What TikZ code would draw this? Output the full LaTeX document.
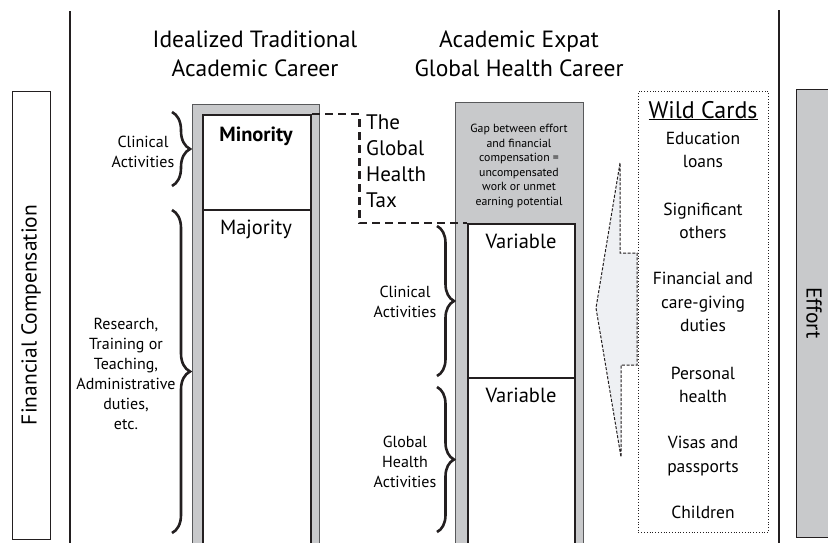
\documentclass[tikz,border=0pt]{standalone}
\usepackage{fontspec}
\setmainfont{PT Sans}
\usetikzlibrary{positioning, decorations.pathreplacing}
\tikzstyle{title} = [align=center, inner sep=0pt, font=\fontsize{23.5}{29}\selectfont]
\tikzstyle{sidebar} = [
    rectangle,
    draw=linedark,
    line width=0.8pt,
    fill=white,
    inner sep=0pt,
    font=\fontsize{21.5}{24}\selectfont,
]
\tikzstyle{column} = [rectangle, draw=edgegray, line width=0.8pt, fill=colgray, inner sep=0pt]
\tikzstyle{cell} = [rectangle, draw=linedark, line width=2.2pt, fill=white, inner sep=0pt]
\tikzstyle{celltext} = [inner sep=0pt, font=\fontsize{20.5}{24}\selectfont]
\tikzstyle{small} = [align=center, inner sep=0pt, font=\fontsize{16}{20}\selectfont]
\tikzstyle{wild} = [align=center, inner sep=0pt, font=\fontsize{17.5}{23.5}\selectfont]
\tikzstyle{curly} = [decorate, decoration={brace, amplitude=18pt}, line width=2.6pt, draw=linedark]
\tikzstyle{sepline} = [line width=1.6pt, draw=linedark]
\tikzstyle{taxline} = [line width=2.6pt, draw=linedark, dash pattern=on 8pt off 5pt]
\definecolor{linedark}{HTML}{231F20}
\definecolor{edgegray}{HTML}{58595B}
\definecolor{colgray}{HTML}{C8C9CB}
\definecolor{arrowfill}{HTML}{EEF0F3}
\begin{document}
\begin{tikzpicture}[x=1pt, y=-1pt]
    \useasboundingbox (0,0) rectangle (828,542);

    % outer bars and separators
    \node (fc) [sidebar, rotate=90, minimum width=448pt, minimum height=38pt] at (31,315) {Financial Compensation};
    \node (ef) [sidebar, fill=colgray, rotate=-90, minimum width=448pt, minimum height=36pt] at (814,313) {Effort};
    \draw [sepline] (70,11) -- (70,546);
    \draw [sepline] (779,10) -- (779,546);

    \node (t1) [title] at (255,54) {Idealized Traditional\\ Academic Career};
    \node (t2) [title] at (519,54) {Academic Expat\\ Global Health Career};

    % traditional career column
    \node (lcol) [column, anchor=north west, minimum width=127pt, minimum height=450pt] at (192,104) {};
    \node (mino) [cell, anchor=north west, minimum width=108pt, minimum height=95pt] at (202,114) {};
    \node (majo) [cell, anchor=north west, minimum width=108pt, minimum height=345pt] at (202,209) {};
    \node (minotx) [celltext, anchor=base, font=\fontsize{20.5}{24}\selectfont\bfseries] at (256,141) {Minority};
    \node (majotx) [celltext, anchor=base] at (256,234) {Majority};

    \draw [curly] (172,112) -- (172,186);
    \draw [curly] (172,210) -- (172,533);
    \node (clin1) [small] at (143,152) {Clinical\\ Activities};
    \node (rese) [small] at (126,374) {Research,\\ Training or\\ Teaching,\\ Administrative\\ duties,\\ etc.};

    % global health career column
    \node (rcol) [column, anchor=north west, minimum width=128pt, minimum height=450pt] at (455,102) {};
    \node (var1) [cell, anchor=north west, minimum width=107pt, minimum height=154pt] at (467,223) {};
    \node (var2) [cell, anchor=north west, minimum width=107pt, minimum height=175pt] at (467,377) {};
    \node (var1tx) [celltext, anchor=base] at (521,248) {Variable};
    \node (var2tx) [celltext, anchor=base] at (521,402) {Variable};
    \node (gap) [align=center, inner sep=0pt, font=\fontsize{11.8}{14.5}\selectfont] at (519,166)
        {Gap between effort\\ and financial\\ compensation =\\ uncompensated\\ work or unmet\\ earning potential};

    \draw [curly, decoration={brace, amplitude=17pt}] (437,226) -- (437,376);
    \draw [curly, decoration={brace, amplitude=17pt}] (437,387) -- (437,532);
    \node (clin2) [small] at (405,302) {Clinical\\ Activities};
    \node (glob) [small] at (405,462) {Global\\ Health\\ Activities};

    % the tax
    \draw [taxline] (mino.north east) -- ++(47,0) |- (var1.north west);
    \node (tax) [align=left, inner sep=0pt, anchor=north west, font=\fontsize{21}{26}\selectfont] at (366,115)
        {The\\ Global\\ Health\\ Tax};

    % wild cards
    \node (wc) [rectangle, draw=linedark, dotted, line width=0.8pt, anchor=north west,
        minimum width=130pt, minimum height=441pt] at (638,91) {};
    \draw [dash pattern=on 3pt off 1.6pt, line width=1pt, draw=linedark, fill=arrowfill]
        (620,163) -- (596,308) -- (621,457) -- (621,365) -- (637,365) -- (637,253) -- (620,253) -- cycle;
    \node (wctx) [inner sep=0pt, anchor=base, font=\fontsize{24}{28}\selectfont] at (703,118) {\underline{Wild Cards}};
    \node (edu) [wild] at (703,150) {Education\\ loans};
    \node (sig) [wild] at (703,221) {Significant\\ others};
    \node (fin) [wild] at (703,302) {Financial and\\ care-giving\\ duties};
    \node (pers) [wild] at (703,385) {Personal\\ health};
    \node (visa) [wild] at (703,456) {Visas and\\ passports};
    \node (chil) [wild, anchor=base] at (703,518) {Children};
\end{tikzpicture}
\end{document}
